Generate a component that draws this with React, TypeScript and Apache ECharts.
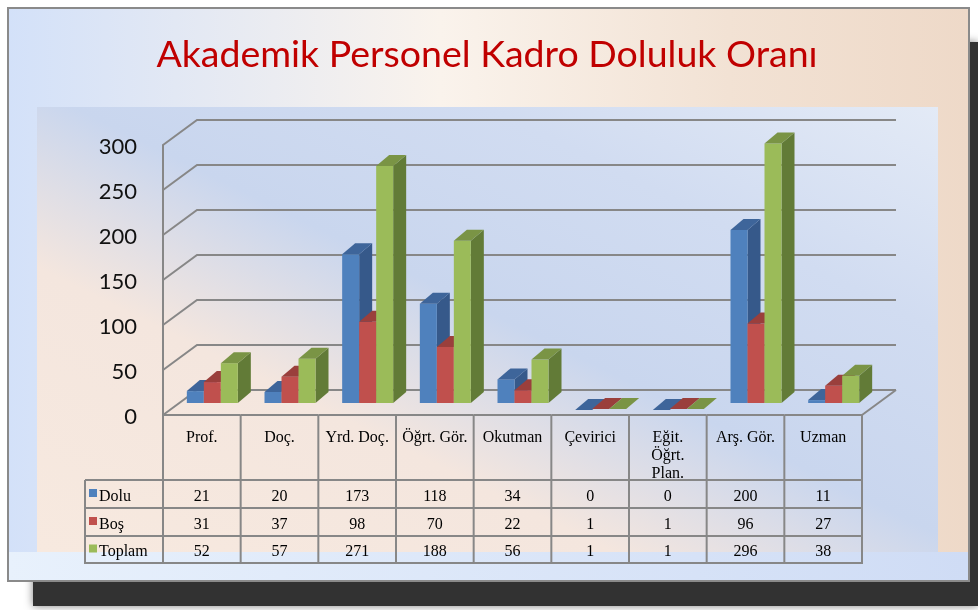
import React, { useEffect, useRef } from "react";
import * as echarts from "echarts";

const categories = ["Prof.", "Doç.", "Yrd. Doç.", "Öğrt. Gör.", "Okutman", "Çevirici", "Eğit.\nÖğrt.\nPlan.", "Arş. Gör.", "Uzman"];
const seriesNames = ["Dolu", "Boş", "Toplam"];
const dolu = [21, 20, 173, 118, 34, 0, 0, 200, 11];
const bos = [31, 37, 98, 70, 22, 1, 1, 96, 27];
const toplam = [52, 57, 271, 188, 56, 1, 1, 296, 38];
const yTicks = [0, 50, 100, 150, 200, 250, 300];
const titleText = "Akademik Personel Kadro Doluluk Oranı";

const faceColors = [
  { front: "#4f81bd", side: "#36598a", top: "#3e659a", key: "#4f81bd" },
  { front: "#c0504d", side: "#8d3a38", top: "#9a3f3c", key: "#c0504d" },
  { front: "#9bbb59", side: "#627b37", top: "#7a9445", key: "#9bbb59" },
];

const GRID_COLOR = "#878787";
const WDX = 34, WDY = -25; // wall depth
const BDX = 13, BDY = -11; // bar depth
const BW = 17, BSTART = -15, BLIFT = -5, BBOTTOM = -12;
const SERIF = "'Liberation Serif', 'DejaVu Serif', serif";

function barRender(s: number) {
  return (params: any, api: any) => {
    const idx = api.value(0);
    const v = api.value(1);
    const c = api.coord([idx, v]);
    const b = api.coord([idx, 0]);
    const x = c[0] + BSTART + s * BW;
    const yt = c[1] + BLIFT;
    const yb = b[1] + BBOTTOM;
    const col = faceColors[s];
    const children: any[] = [];
    if (yt < yb) {
      children.push({
        type: "polygon",
        shape: { points: [[x + BW, yt], [x + BW + BDX, yt + BDY], [x + BW + BDX, yb + BDY], [x + BW, yb]] },
        style: { fill: col.side },
      });
      children.push({
        type: "rect",
        shape: { x, y: yt, width: BW, height: yb - yt },
        style: { fill: col.front },
      });
    }
    children.push({
      type: "polygon",
      shape: { points: [[x, yt], [x + BW, yt], [x + BW + BDX, yt + BDY], [x + BDX, yt + BDY]] },
      style: { fill: col.top },
    });
    return { type: "group", children };
  };
}

function wallRender(params: any, api: any) {
  const cs = params.coordSys;
  const v = api.value(1);
  const y = api.coord([0, v])[1];
  const x0 = cs.x, x1 = cs.x + cs.width;
  const children: any[] = [
    {
      type: "polyline",
      shape: { points: [[x0, y], [x0 + WDX, y + WDY], [x1 + WDX, y + WDY]] },
      style: { stroke: GRID_COLOR, lineWidth: 2, fill: null },
    },
  ];
  if (v === 0) {
    children.push({
      type: "line",
      shape: { x1: x1, y1: y, x2: x1 + WDX, y2: y + WDY },
      style: { stroke: GRID_COLOR, lineWidth: 2 },
    });
  }
  return { type: "group", children };
}

const rowData = [dolu, bos, toplam];

function tableRender(params: any, api: any) {
  const cs = params.coordSys;
  const i = api.value(0);
  const cx = api.coord([i, 0])[0];
  const bw = api.size([1, 0])[0];
  const top = cs.y + cs.height;
  const rows = [top + 65, top + 93, top + 121, top + 148];
  const xl = cx - bw / 2, xr = cx + bw / 2;
  const ln = (x1: number, y1: number, x2: number, y2: number) => ({
    type: "line",
    shape: { x1, y1, x2, y2 },
    style: { stroke: GRID_COLOR, lineWidth: 2 },
  });
  const children: any[] = [];
  children.push(ln(xl, top, xr, top));
  rows.forEach((ry) => children.push(ln(xl, ry, xr, ry)));
  children.push(ln(xr, top, xr, rows[3] + 1));
  for (let r = 0; r < 3; r++) {
    children.push({
      type: "text",
      style: {
        text: String(rowData[r][i]),
        x: cx,
        y: (rows[r] + rows[r + 1]) / 2 + 1,
        align: "center",
        verticalAlign: "middle",
        fill: "#000",
        font: `16px ${SERIF}`,
      },
    });
  }
  if (i === 0) {
    const lx = xl - 78;
    children.push(ln(xl, top, xl, rows[3] + 1));
    children.push(ln(lx, rows[0], lx, rows[3] + 1));
    rows.forEach((ry) => children.push(ln(lx, ry, xl, ry)));
    for (let r = 0; r < 3; r++) {
      const my = (rows[r] + rows[r + 1]) / 2;
      children.push({
        type: "rect",
        shape: { x: lx + 4, y: my - 5, width: 8, height: 8 },
        style: { fill: faceColors[r].key },
      });
      children.push({
        type: "text",
        style: {
          text: seriesNames[r],
          x: lx + 14,
          y: my + 1,
          align: "left",
          verticalAlign: "middle",
          fill: "#000",
          font: `16px ${SERIF}`,
        },
      });
    }
  }
  return { type: "group", children };
}

export default function App() {
  const ref = useRef<HTMLDivElement>(null);
  useEffect(() => {
    if (!ref.current) return;
    const chart = echarts.init(ref.current, undefined, { renderer: "svg" });
    const series: any[] = [
      {
        type: "custom",
        name: "walls",
        renderItem: wallRender,
        data: yTicks.map((v) => [0, v]),
        clip: false,
        z: 1,
        silent: true,
      },
    ];
    [dolu, bos, toplam].forEach((arr, s) => {
      series.push({
        type: "custom",
        name: seriesNames[s],
        renderItem: barRender(s),
        data: arr.map((v, i) => [i, v]),
        clip: false,
        z: 3 + s,
      });
    });
    series.push({
      type: "custom",
      name: "table",
      renderItem: tableRender,
      data: categories.map((_, i) => [i, 0]),
      clip: false,
      z: 10,
      silent: true,
    });
    chart.setOption({
      animation: false,
      graphic: [
        {
          type: "rect",
          z: -30,
          shape: { x: 33, y: 42, width: 945, height: 564 },
          style: { fill: "#333333", shadowBlur: 8, shadowColor: "rgba(0,0,0,0.5)" },
        },
        {
          type: "rect",
          z: -20,
          shape: { x: 8, y: 8, width: 961, height: 573 },
          style: {
            fill: new echarts.graphic.LinearGradient(0, 0, 1, 0, [
              { offset: 0, color: "#d3e1f9" },
              { offset: 0.45, color: "#faf3ec" },
              { offset: 0.75, color: "#f2e2d4" },
              { offset: 1, color: "#eed9c8" },
            ]),
            stroke: "#8a8a8a",
            lineWidth: 2,
          },
        },
        {
          type: "rect",
          z: -19,
          shape: { x: 9, y: 552, width: 959, height: 28 },
          style: {
            fill: new echarts.graphic.LinearGradient(0, 0, 1, 0, [
              { offset: 0, color: "#e8f1fc" },
              { offset: 1, color: "#cfdcf5" },
            ]),
          },
        },
        {
          type: "rect",
          z: -18,
          shape: { x: 37, y: 107, width: 901, height: 445 },
          style: {
            fill: new echarts.graphic.LinearGradient(0, 1, 1, 0, [
              { offset: 0, color: "#f7e9df" },
              { offset: 0.32, color: "#f4e6de" },
              { offset: 0.52, color: "#c9d6ee" },
              { offset: 0.75, color: "#d1dcf1" },
              { offset: 1, color: "#e3eaf6" },
            ]),
          },
        },
        {
          type: "text",
          z: 50,
          style: {
            text: titleText,
            x: 487,
            y: 52,
            align: "center",
            verticalAlign: "middle",
            fill: "#c00000",
            font: "37.5px Lato, 'Open Sans', sans-serif",
          },
        },
      ],
      grid: { left: 163, top: 145, width: 699, height: 270, outerBoundsMode: "none" },
      xAxis: {
        type: "category",
        data: categories,
        axisLine: { show: false },
        axisTick: { show: false },
        splitLine: { show: false },
        axisLabel: {
          interval: 0,
          margin: 12,
          verticalAlign: "top",
          lineHeight: 18,
          fontSize: 16,
          fontFamily: SERIF,
          color: "#000",
        },
      },
      yAxis: {
        type: "value",
        min: 0,
        max: 300,
        interval: 50,
        axisLine: { show: true, lineStyle: { color: GRID_COLOR, width: 2 } },
        axisTick: { show: false },
        splitLine: { show: false },
        axisLabel: {
          margin: 26,
          fontSize: 22,
          fontFamily: "Lato, 'Open Sans', sans-serif",
          color: "#111",
          verticalAlign: "middle",
        },
      },
      series,
    });
    return () => chart.dispose();
  }, []);
  return (
    <div
      ref={ref}
      style={{ position: "fixed", left: 0, top: 0, width: 978, height: 610 }}
    />
  );
}
